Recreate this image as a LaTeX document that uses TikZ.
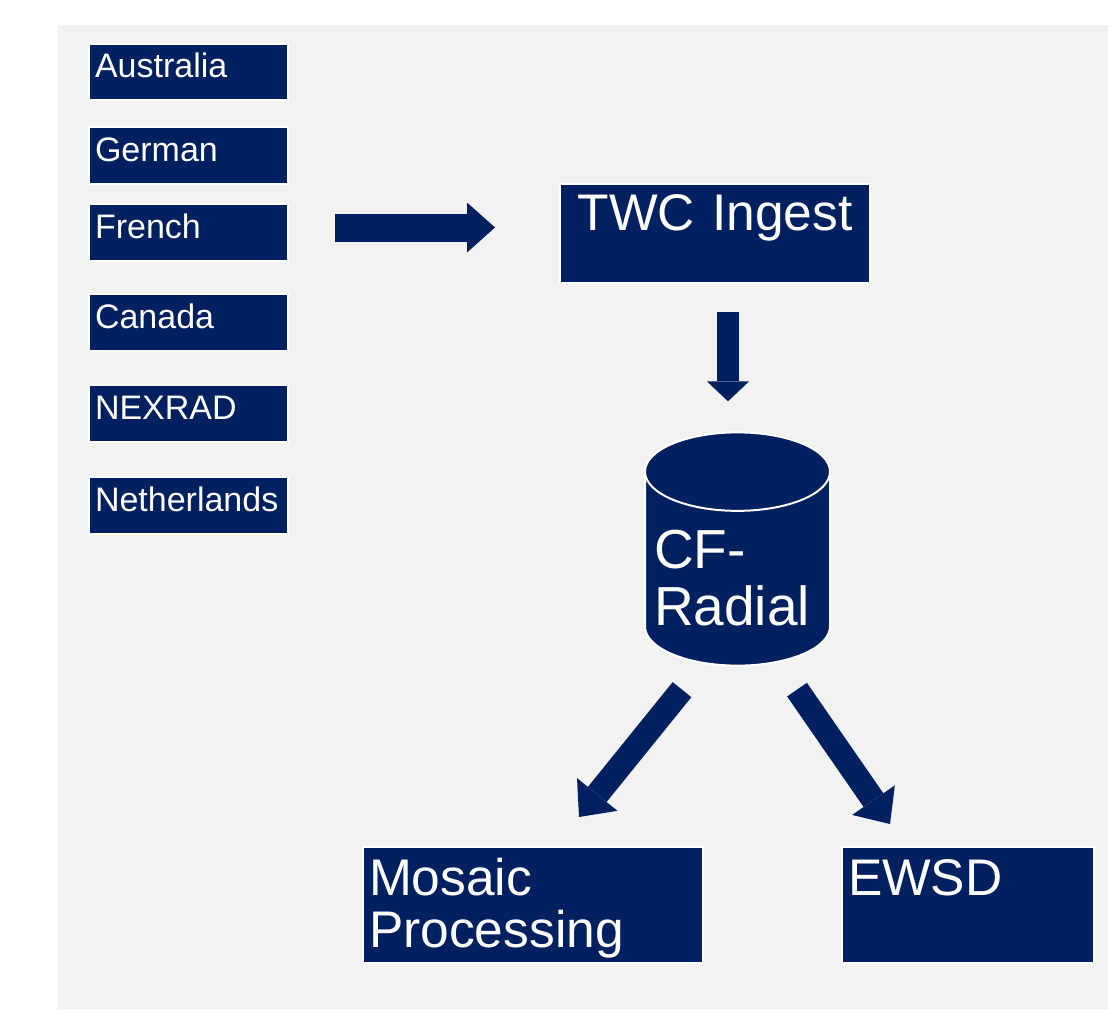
\documentclass[tikz,border=0pt]{standalone}
\usepackage{fontspec}
\setmainfont{Liberation Sans}
\usepackage{xcolor}
\usetikzlibrary{positioning,arrows.meta,shapes.geometric}
\definecolor{navy}{HTML}{002060}
\definecolor{panel}{HTML}{F2F2F2}
\tikzset{
  fat/.style n args={3}{draw=navy, line width=#1, -{Triangle[length=#3, width=#2, line width=0pt]}},
  every node/.style={anchor=center}
}

\begin{document}
\begin{tikzpicture}[
  x=1pt, y=-1pt,
  box/.style={rectangle, draw=white, line width=2pt, outer sep=0pt, fill=navy, text=white, inner xsep=6pt, inner ysep=0pt, align=left},
  source/.style={box, font=\fontsize{34}{40}\selectfont, minimum width=199pt, minimum height=56.5pt, text width=187pt, text height=34pt, text depth=22.5pt},
  ingest/.style={box, font=\fontsize{51.5}{52}\selectfont, align=center, minimum width=310pt, minimum height=99pt, text width=298pt, text height=46pt, text depth=53pt},
  product/.style={box, font=\fontsize{51.5}{52}\selectfont, minimum height=116pt, text height=48pt, text depth=68pt},
  store/.style={cylinder, shape border rotate=90, aspect=0.47, draw=white, line width=2pt, outer sep=0pt, fill=navy, text=white, font=\fontsize{55}{57}\selectfont, align=left, text width=167pt, text height=57pt, inner sep=0pt, minimum width=185pt, minimum height=232pt}
]
\useasboundingbox (0,0) rectangle (1108,1009);
\fill[panel] (58,25) rectangle (1108,1009);

% radar sources
\node[source] (aus) at (188.5,72) {Australia};
\node[source, below=26.75pt of aus] (ger) {German};
\node[source, below=20.75pt of ger] (fra) {French};
\node[source, below=33.5pt of fra] (can) {Canada};
\node[source, below=34.5pt of can] (nex) {NEXRAD};
\node[source, below=35.5pt of nex] (ned) {Netherlands};

\node[ingest] (twc) at (715,233.5) {TWC Ingest};
\node[store, anchor=shape center] (cfr) at (737.5,549) {CF-\\Radial};

\node[product, text width=328pt] (mos) at (533,905) {Mosaic\\Processing};
\node[product, text width=240pt, right=139pt of mos] (ewsd) {EWSD};

\coordinate (inA) at ([xshift=47pt, yshift=5pt]fra.east);
\coordinate (inB) at ([xshift=-65pt]inA -| twc.west);
\draw[fat={28pt}{50pt}{28pt}] (inA) -- (inB);

\coordinate (dnA) at ([shift={(13,29)}]twc.south);
\coordinate (dnB) at ([shift={(-9.5,-31)}]cfr.north);
\draw[fat={22pt}{42pt}{20pt}] (dnA) -- (dnB);

\coordinate (lfA) at ([shift={(-55.5,24)}]cfr.south);
\coordinate (lfB) at ([shift={(46,-30)}]mos.north);
\draw[fat={24pt}{52pt}{29pt}] (lfA) -- (lfB);

\coordinate (rtA) at ([shift={(59.5,24)}]cfr.south);
\coordinate (rtB) at ([shift={(-78,-23)}]ewsd.north);
\draw[fat={24pt}{52pt}{29pt}] (rtA) -- (rtB);
\end{tikzpicture}
\end{document}
